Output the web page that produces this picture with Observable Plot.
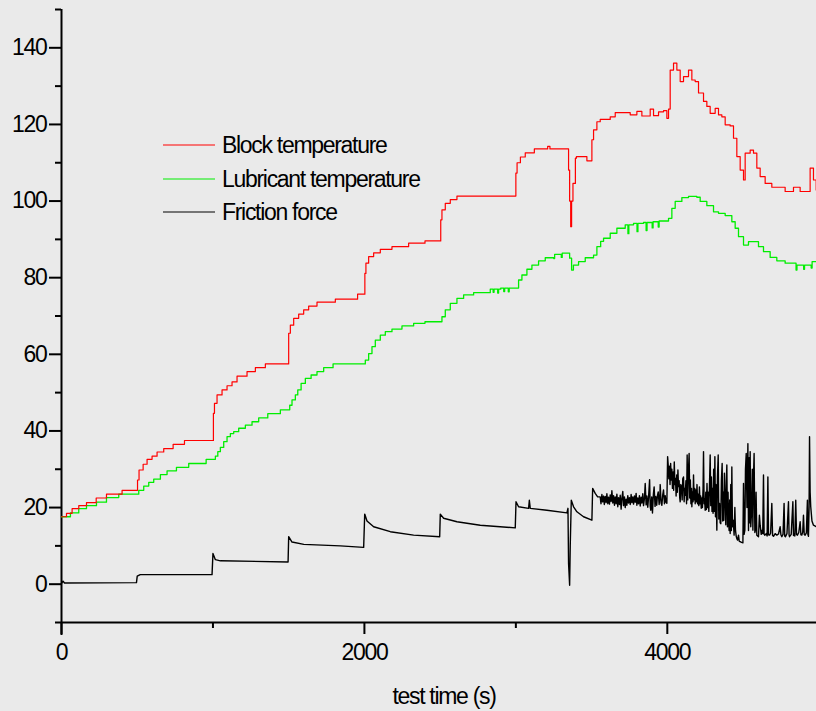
<!DOCTYPE html>
<html>
<head>
<meta charset="utf-8">
<script src="https://cdn.jsdelivr.net/npm/d3@7"></script>
<script src="https://cdn.jsdelivr.net/npm/@observablehq/plot@0.6"></script>
<style>
  html, body { margin: 0; padding: 0; background: #eaeaea; }
  #chart { position: relative; width: 816px; height: 711px; overflow: hidden; }
  #chart svg text { font-family: "Liberation Sans", Arial, sans-serif; letter-spacing: -1.3px; }
</style>
</head>
<body>
<div id="chart"></div>
<script>
// ---- data (time in s, value) ----
const seriesNames = ["Block temperature", "Lubricant temperature", "Friction force"];
const seriesColors = ["#ff0000", "#00ee00", "#000000"];

const xMajorTicks = [0, 2000, 4000];
const xMinorTicks = [1000, 3000];
const yMajorTicks = [0, 20, 40, 60, 80, 100, 120, 140];
const yMinorTicks = [-10, 10, 30, 50, 70, 90, 110, 130, 150];

const blockTemperature = [
  [0,17.6],[33,18.5],[70,19.7],[114,20.5],[165,21.3],[229,22.5],[297,23.5],[400,24.5],
  [502,27.2],[512,29.8],[539,31.3],[565,32.6],[598,33.4],[631,34.5],[675,35.4],[737,36.5],[812,37.5],
  [1003,44.6],[1010,47.2],[1027,49.4],[1060,50.7],[1093,51.8],[1126,52.8],[1159,54.3],[1225,55.5],[1280,56.5],[1346,57.5],
  [1500,65.5],[1511,67.6],[1533,69.4],[1566,70.5],[1599,71.6],[1632,72.6],[1687,73.6],[1808,74.4],[1955,75.7],
  [2003,81.1],[2010,83.8],[2028,85.5],[2061,86.5],[2105,87.4],[2182,88.1],[2292,89.0],[2400,89.6],
  [2504,95.1],[2512,97.7],[2534,99.4],[2567,100.4],[2611,101.3],
  [3000,107.3],[3008,110.0],[3030,111.5],[3062,112.6],[3122,113.6],[3210,114.3],[3225,113.6],
  [3348,108.1],[3355,100.0],[3362,93.3],[3368,100.0],[3377,104.6],[3393,111.2],[3400,111.6],[3469,110.5],
  [3502,116.0],[3513,118.6],[3535,120.7],[3557,121.3],[3623,122.0],[3656,123.1],[3755,122.5],[3799,123.4],
  [3832,122.2],[3887,124.0],[3909,122.3],[3942,123.3],[3975,123.6],[3997,121.6],[4008,124.0],
  [4019,134.2],[4041,136.0],[4063,134.2],[4085,131.2],[4107,132.5],[4140,134.2],[4162,131.6],[4184,131.2],
  [4206,128.2],[4239,126.0],[4261,124.7],[4283,122.9],[4316,124.2],[4338,122.5],[4360,122.0],[4382,119.9],
  [4415,119.6],[4437,116.4],[4459,111.6],[4481,108.1],[4503,105.5],[4514,112.5],[4547,113.3],[4569,112.5],
  [4591,108.6],[4613,106.4],[4646,104.6],[4690,103.6],[4778,102.5],[4833,103.6],[4877,102.5],
  [4943,108.6],[4965,105.5],[4983,102.9]
];

const lubricantTemperature = [
  [0,17.6],[59,18.6],[114,19.7],[165,20.5],[231,21.4],[297,22.6],[378,23.5],[510,24.5],[543,25.6],
  [576,26.6],[609,27.4],[653,28.6],[697,29.6],[759,30.5],[840,31.5],[955,32.6],[1016,33.4],[1032,34.6],
  [1049,35.7],[1071,37.2],[1093,38.5],[1115,39.3],[1137,39.8],[1170,40.7],[1214,41.5],[1258,42.4],
  [1302,43.4],[1362,44.5],[1445,45.5],[1507,46.7],[1522,48.1],[1544,49.4],[1560,50.7],[1582,52.4],
  [1610,53.7],[1648,54.6],[1687,55.5],[1731,56.5],[1793,57.5],[2006,58.5],[2028,60.2],[2050,62.0],
  [2072,63.7],[2105,65.0],[2138,65.9],[2182,66.6],[2248,67.4],[2325,68.1],[2400,68.5],[2512,69.8],
  [2534,71.6],[2567,73.3],[2611,74.6],[2655,75.5],[2721,76.1],[2831,77.0],[2850,76.2],[2856,77.0],
  [2880,76.0],[2886,77.0],[2900,77.3],[2920,76.4],[2926,77.3],[2950,76.3],[2956,77.3],
  [3018,79.4],[3040,80.7],[3073,82.2],[3106,83.3],[3150,84.4],[3194,85.2],[3250,85.0],[3256,86.1],
  [3271,86.1],[3300,85.3],[3306,86.4],[3342,86.4],[3355,85.1],[3368,82.0],[3380,83.3],[3414,84.2],
  [3458,85.2],[3513,85.9],[3535,88.1],[3560,89.5],[3579,90.3],[3623,91.6],[3667,92.9],[3722,93.8],
  [3740,91.5],[3746,93.8],[3777,94.2],[3800,92.0],[3806,94.2],[3843,94.4],[3860,92.3],[3866,94.4],
  [3900,93.0],[3906,94.6],[3940,93.2],[3946,94.8],[4008,95.5],[4030,98.1],[4052,99.9],[4096,100.9],
  [4140,101.2],[4195,101.0],[4217,99.9],[4261,98.8],[4305,97.2],[4338,96.8],[4382,96.2],[4426,94.6],
  [4448,92.9],[4470,90.7],[4503,88.5],[4536,89.4],[4580,89.4],[4602,88.1],[4635,86.8],[4679,85.3],
  [4723,84.4],[4778,83.8],[4850,82.0],[4856,83.3],[4900,82.2],[4906,83.3],[4950,82.5],[4956,84.2],[4983,84.2]
];

const frictionForce = [
  [0,0.2],[10,0.8],[20,0.3],[495,0.4],[500,2.1],[520,2.5],[994,2.5],[1000,8.0],[1016,6.4],[1049,6.1],
  [1496,5.8],[1500,12.4],[1522,11.0],[1600,10.4],[1841,10.0],[1995,9.6],[2002,18.3],[2017,16.5],
  [2061,15.0],[2171,13.7],[2325,12.8],[2497,12.4],[2501,18.3],[2523,17.2],[2611,16.3],[2765,15.4],
  [2996,14.7],[3001,21.5],[3018,20.2],[3084,19.8],[3089,21.9],[3095,19.8],[3205,19.3],[3337,18.6],
  [3344,19.8],[3348,5.4],[3355,-0.3],[3359,10.0],[3366,21.9],[3381,20.2],[3403,18.9],[3447,17.6],
  [3502,16.7],[3507,25.0],[3524,23.7],[3540,22.8],
  [3557,22.8],[3562,21.0],[3568,23.4],[3573,21.5],[3579,23.0],[3584,20.8],[3590,22.9],[3596,21.3],
  [3601,23.6],[3607,21.0],[3612,22.7],[3618,20.9],[3623,23.3],[3629,21.6],[3634,24.4],[3640,21.2],
  [3645,23.1],[3651,20.6],[3656,22.8],[3662,21.0],[3667,23.5],[3673,20.2],[3678,22.6],[3684,20.8],
  [3689,23.2],[3695,19.6],[3700,22.4],[3706,24.2],[3711,20.5],[3717,22.8],[3722,20.0],[3728,22.2],
  [3733,20.6],[3739,23.1],[3744,21.2],[3750,22.6],[3755,20.8],[3761,23.4],[3766,21.3],[3772,22.8],
  [3777,20.9],[3783,23.0],[3788,21.4],[3794,23.7],[3799,20.6],[3805,22.5],[3810,21.0],[3816,23.1],
  [3821,20.4],[3827,22.7],[3832,21.2],[3838,23.6],[3843,20.5],[3849,22.4],[3854,26.3],[3860,20.7],
  [3865,23.0],[3871,20.1],[3876,22.6],[3883,27.3],[3887,20.4],[3891,19.3],[3897,22.8],[3902,18.6],
  [3908,23.5],[3913,25.4],[3919,20.3],[3924,22.9],[3930,20.6],[3935,23.2],[3940,24.1],[3946,20.8],
  [3951,23.0],[3953,26.0],[3959,21.2],[3964,20.6],[3970,23.4],[3975,24.6],[3981,21.0],[3986,23.1],
  [3992,21.3],[3997,21.1],
  [4002,33.3],[4006,31.0],[4010,27.5],[4014,30.8],[4018,26.0],[4022,31.5],[4026,27.2],[4030,30.0],
  [4034,25.0],[4038,29.3],[4042,24.5],[4046,31.9],[4050,26.0],[4054,27.6],[4058,23.0],[4062,28.5],
  [4066,24.0],[4070,29.8],[4074,25.5],[4078,27.0],[4082,22.5],[4085,21.5],[4089,26.0],[4094,25.4],
  [4098,22.0],[4102,27.5],[4107,28.0],[4111,21.5],[4115,25.0],[4118,23.2],
  [4123,27.0],[4127,21.0],[4131,33.7],[4135,22.0],[4139,29.0],[4144,34.1],[4148,22.5],[4152,27.2],
  [4156,21.0],[4160,25.0],[4162,20.2],[4166,24.0],[4170,21.5],[4173,28.5],[4177,22.0],[4181,25.0],
  [4184,21.0],[4188,24.6],[4192,21.5],[4196,26.0],[4200,21.0],[4204,23.5],[4208,20.5],[4212,25.4],
  [4216,21.0],[4220,23.0],[4224,19.8],[4228,22.5],[4232,20.0],[4236,25.0],[4239,34.6],[4243,21.0],
  [4246,22.4],[4250,19.3],
  [4254,24.0],[4258,19.5],[4262,26.3],[4266,20.0],[4270,24.0],[4274,19.0],[4278,25.0],[4283,33.7],
  [4287,20.5],[4291,28.0],[4295,19.0],[4299,25.0],[4302,18.5],[4306,30.0],[4310,19.0],[4314,33.3],
  [4318,17.6],[4322,26.0],[4327,14.1],
  [4331,28.0],[4336,33.7],[4340,17.0],[4345,21.1],[4349,16.0],[4353,15.8],[4357,27.0],[4362,31.5],
  [4366,16.5],[4370,24.0],[4373,16.7],[4377,29.0],[4382,21.9],[4386,15.5],[4390,27.0],[4393,31.1],
  [4397,15.0],[4401,24.0],[4404,16.7],[4408,14.0],[4412,22.0],[4415,13.2],[4419,26.0],[4423,14.0],
  [4426,30.6],[4430,15.0],[4435,16.7],[4441,12.8],[4446,20.0],[4450,14.1],[4455,12.5],[4459,11.9],
  [4464,11.5],[4470,12.8],[4475,11.2],[4481,11.1],[4490,10.9],[4499,10.8],
  [4503,26.3],[4507,13.0],[4512,14.1],[4516,30.0],[4521,34.1],[4526,20.0],[4532,36.7],[4536,14.0],
  [4540,33.0],[4544,16.0],[4547,34.6],[4551,15.0],[4556,18.5],[4561,30.0],[4565,14.1],[4569,28.0],
  [4573,34.1],[4578,13.5],[4582,14.1],[4586,24.0],[4591,12.8],[4602,12.4],[4608,18.0],[4613,15.4],
  [4620,13.0],[4626,14.1],[4630,13.2],[4635,28.5],[4639,13.0],[4644,12.8],
  [4653,13.2],[4659,12.6],[4664,28.0],[4668,12.9],[4675,12.8],[4682,13.3],[4690,21.1],[4695,12.7],
  [4701,12.5],[4712,13.2],[4723,12.8],[4734,13.1],[4745,15.0],[4750,12.9],[4756,12.4],[4764,13.0],
  [4771,21.1],[4775,12.6],[4780,12.4],[4790,13.2],[4800,21.5],[4804,12.8],[4807,12.4],[4818,13.0],
  [4829,21.5],[4833,12.7],[4837,13.2],[4842,12.6],[4848,21.9],[4853,13.0],[4859,12.8],[4868,13.5],
  [4877,16.3],[4882,12.9],[4888,12.8],[4894,13.6],[4899,18.0],[4904,13.0],[4910,12.8],[4918,13.4],
  [4925,21.9],[4928,13.0],[4932,12.5],[4936,20.0],[4939,38.5],[4943,24.0],[4947,20.2],[4955,16.5],
  [4965,15.4],[4983,15.0]
];

const xAxisTitle = "test time (s)";

// ---- chart ----
const chart = Plot.plot({
  width: 816,
  height: 711,
  marginLeft: 61,
  marginRight: 0,
  marginTop: 9,
  marginBottom: 89,
  x: {domain: [0, 4985], label: null},
  y: {domain: [-10, 150], label: null},
  style: {background: "#eaeaea", color: "black", fontSize: "23px", fontFamily: "Liberation Sans, Arial, sans-serif", overflow: "visible"},
  marks: [
    Plot.ruleY([-10], {stroke: "black", strokeWidth: 2}),
    Plot.ruleX([0], {stroke: "black", strokeWidth: 2, insetBottom: -13}),
    Plot.axisY(yMajorTicks, {tickSize: 12, tickPadding: 3, strokeWidth: 2, fontSize: 23, tickFormat: d => String(d)}),
    Plot.axisY(yMinorTicks, {tickSize: 6, strokeWidth: 2, tickFormat: () => ""}),
    Plot.axisX(xMajorTicks, {tickSize: 12, tickPadding: 9, strokeWidth: 2, fontSize: 23, tickFormat: d => String(d)}),
    Plot.axisX(xMinorTicks, {tickSize: 6, strokeWidth: 2, tickFormat: () => ""}),
    Plot.line(lubricantTemperature, {x: d => d[0], y: d => d[1], curve: "step-after", stroke: seriesColors[1], strokeWidth: 1.3}),
    Plot.line(blockTemperature, {x: d => d[0], y: d => d[1], curve: "step-after", stroke: seriesColors[0], strokeWidth: 1.2}),
    Plot.line(frictionForce, {x: d => d[0], y: d => d[1], stroke: seriesColors[2], strokeWidth: 1.4}),
    Plot.text([xAxisTitle], {text: d => d, frameAnchor: "bottom", dy: 74, dx: 5, lineAnchor: "middle", fontSize: 23, fill: "black"})
  ]
});

// legend (inside the plot area, upper left)
const svg = d3.select(chart);
const lg = svg.append("g").attr("class", "legend").attr("text-anchor", "start");
const legendY = [145, 179, 212];
seriesNames.forEach((name, i) => {
  lg.append("line")
    .attr("x1", 163).attr("x2", 215)
    .attr("y1", legendY[i]).attr("y2", legendY[i])
    .attr("stroke", seriesColors[i]).attr("stroke-width", 1.2);
  lg.append("text")
    .attr("x", 222).attr("y", legendY[i])
    .attr("dy", "0.35em")
    .attr("text-anchor", "start")
    .attr("font-size", 23)
    .attr("fill", "black")
    .text(name);
});

document.getElementById("chart").appendChild(chart);
</script>
</body>
</html>
